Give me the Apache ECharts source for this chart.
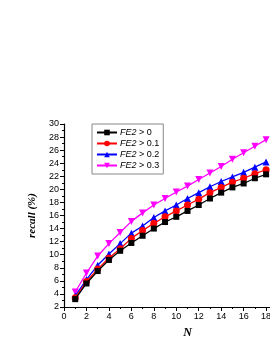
<!DOCTYPE html>
<html><head><meta charset="utf-8">
<script src="https://cdn.jsdelivr.net/npm/echarts@6/dist/echarts.min.js"></script>
<style>html,body{margin:0;padding:0;background:#fff;overflow:hidden;width:270px;height:349px}#c{width:320px;height:349px}</style>
</head><body><div id="c"></div>
<script>
var nValues = [1,2,3,4,5,6,7,8,9,10,11,12,13,14,15,16,17,18];
var seriesNames = ['FE2 > 0','FE2 > 0.1','FE2 > 0.2','FE2 > 0.3'];
var fe2_0   = [3.2,5.6,7.5,9.2,10.6,11.8,12.9,14.0,15.0,15.8,16.7,17.6,18.6,19.5,20.3,20.9,21.7,22.3];
var fe2_01  = [3.4,5.9,7.8,9.5,10.9,12.5,13.7,14.8,15.8,16.7,17.6,18.5,19.5,20.3,21.1,21.7,22.4,23.0];
var fe2_02  = [3.7,6.2,8.4,10.1,11.7,13.3,14.4,15.7,16.7,17.6,18.6,19.5,20.4,21.2,21.9,22.6,23.4,24.2];
var fe2_03  = [4.3,7.2,9.8,11.7,13.4,15.1,16.4,17.6,18.6,19.6,20.5,21.5,22.5,23.5,24.6,25.6,26.6,27.6];
var xTitle = 'N';
var yTitle = 'recall (%)';

var all = [fe2_0, fe2_01, fe2_02, fe2_03];
var colors = ['#000000','#ff0000','#0000ff','#ff00ff'];
var symbols = ['rect','circle','triangle','path://M0,0 L10,0 L5,9 Z'];
var sizes = [6,7,7,7];

var chart = echarts.init(document.getElementById('c'), null, {renderer:'canvas'});
var series = all.map(function(vals, i){
  return {
    name: seriesNames[i], type:'line',
    data: nValues.map(function(n, j){ return [n, vals[j]]; }),
    symbol: symbols[i], symbolSize: sizes[i], showSymbol:true,
    itemStyle:{color:colors[i]}, lineStyle:{color:colors[i], width:1.3},
    z: 10 - i, animation:false
  };
});
var axisCommon = {
  axisLine:{show:true, lineStyle:{color:'#000', width:1.2}},
  axisTick:{show:true, inside:false, length:4, lineStyle:{color:'#000', width:1}},
  minorTick:{show:true, splitNumber:2, length:2, lineStyle:{color:'#000', width:1}},
  splitLine:{show:false},
  axisLabel:{color:'#000', fontFamily:'Liberation Sans, Arial', fontSize:9}
};
chart.setOption({
  animation:false,
  backgroundColor:'#fff',
  grid:{left:64, top:124, bottom:42, right:9, containLabel:false},
  legend:{
    orient:'vertical', left:92, top:124,
    data: seriesNames,
    itemWidth:20, itemHeight:7, itemGap:0,
    padding:[3,4,3,4],
    borderColor:'#888', borderWidth:1,
    formatter:function(name){ var p = name.split(' '); return '{i|' + p[0] + '}{n| ' + p.slice(1).join(' ') + '}'; },
    textStyle:{ fontSize:9, lineHeight:11, color:'#000', padding:[0,0,0,-2],
      rich:{ i:{fontStyle:'italic', fontSize:9, fontFamily:'Liberation Sans, Arial', color:'#000'},
             n:{fontSize:9, fontFamily:'Liberation Sans, Arial', color:'#000'} } }
  },
  xAxis: Object.assign({}, axisCommon, {
    type:'value', min:0, max:22, interval:2,
    name:xTitle, nameLocation:'middle', nameGap:20,
    nameTextStyle:{fontFamily:'Liberation Serif, Times New Roman', fontStyle:'italic', fontWeight:'bold', fontSize:12, color:'#000'},
    axisLabel:Object.assign({}, axisCommon.axisLabel, {margin:5})
  }),
  yAxis: Object.assign({}, axisCommon, {
    type:'value', min:2, max:30, interval:2,
    name:yTitle, nameLocation:'middle', nameGap:22,
    nameTextStyle:{fontFamily:'Liberation Serif, Times New Roman', fontStyle:'italic', fontWeight:'bold', fontSize:11, color:'#000'},
    axisLabel:Object.assign({}, axisCommon.axisLabel, {margin:5})
  }),
  series: series
});
</script></body></html>
